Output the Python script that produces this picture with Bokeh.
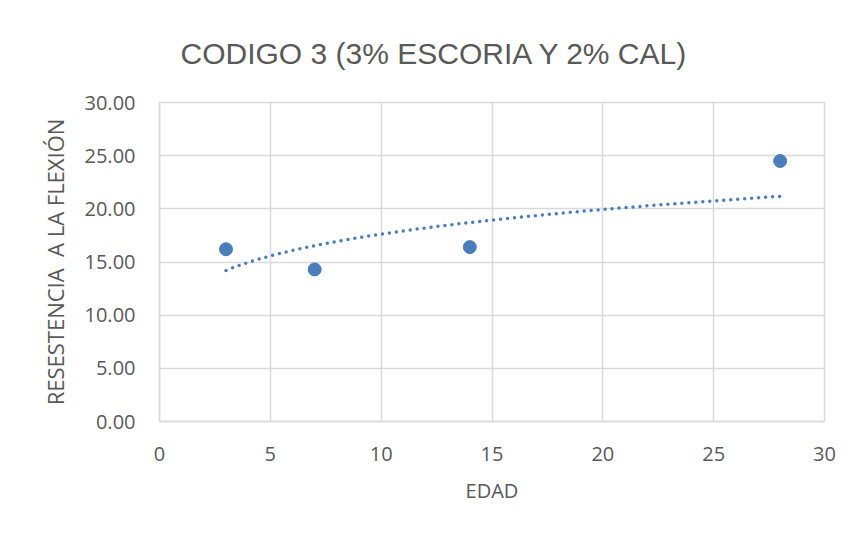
import numpy as np
from bokeh.plotting import figure
from bokeh.models import Range1d, FixedTicker, Title, NumeralTickFormatter
from bokeh.embed import file_html
from bokeh.resources import INLINE

# Data
edad = [3, 7, 14, 28]
resistencia = [16.2, 14.3, 16.4, 24.5]
x_ticks = [0, 5, 10, 15, 20, 25, 30]
y_ticks = [0, 5, 10, 15, 20, 25, 30]

title_text = "CODIGO 3 (3% ESCORIA Y 2% CAL)"
x_label = "EDAD"
y_label = "RESESTENCIA\u00a0 A LA FLEXIÓN"

# Power trendline (least squares on log-log, as Excel does)
lx = np.log(np.array(edad, dtype=float))
ly = np.log(np.array(resistencia, dtype=float))
b_coef, ln_a = np.polyfit(lx, ly, 1)
tx = np.linspace(min(edad), max(edad), 200)
ty = np.exp(ln_a) * tx ** b_coef

BLUE = "#4a7ebb"
GRID = "#d9d9d9"
TXT = "#595959"

p = figure(width=845, height=528, output_backend="svg", toolbar_location=None,
           x_range=Range1d(0, 30), y_range=Range1d(0, 30),
           min_border_left=159, min_border_right=21,
           min_border_top=102, min_border_bottom=107)
p.frame_width = 665
p.frame_height = 319

p.title = Title(text=title_text, align="left", offset=21, standoff=66,
                text_font="Liberation Sans", text_font_size="30px",
                text_font_style="normal", text_color=TXT)

p.outline_line_color = GRID
p.outline_line_width = 1.5
p.background_fill_color = "white"
p.border_fill_color = "white"

for ax in (p.xaxis[0], p.yaxis[0]):
    ax.axis_line_color = GRID
    ax.axis_line_width = 1.5
    ax.major_tick_line_color = None
    ax.minor_tick_line_color = None
    ax.major_label_text_font = "Open Sans"
    ax.major_label_text_font_size = "20px"
    ax.major_label_text_color = TXT
    ax.axis_label_text_font = "Open Sans"
    ax.axis_label_text_font_style = "normal"
    ax.axis_label_text_color = TXT

p.xaxis.axis_label_text_font_size = "20px"
p.yaxis.axis_label_text_font_size = "22px"
p.xaxis.ticker = FixedTicker(ticks=x_ticks)
p.yaxis.ticker = FixedTicker(ticks=y_ticks)
p.yaxis.formatter = NumeralTickFormatter(format="0.00")
p.xaxis.axis_label = x_label
p.yaxis.axis_label = y_label
p.xaxis.major_label_standoff = 19
p.yaxis.major_label_standoff = 18
p.xaxis.axis_label_standoff = 13
p.yaxis.axis_label_standoff = 12

p.xgrid.ticker = FixedTicker(ticks=x_ticks)
p.ygrid.ticker = FixedTicker(ticks=y_ticks)
p.xgrid.grid_line_color = GRID
p.ygrid.grid_line_color = GRID
p.xgrid.grid_line_width = 1.5
p.ygrid.grid_line_width = 1.5

p.line(tx, ty, line_color=BLUE, line_width=3.5, line_dash="0 7", line_cap="round")
p.scatter(edad, resistencia, size=13, fill_color=BLUE, line_color=BLUE)

open("out.html", "w").write(file_html(p, INLINE))
